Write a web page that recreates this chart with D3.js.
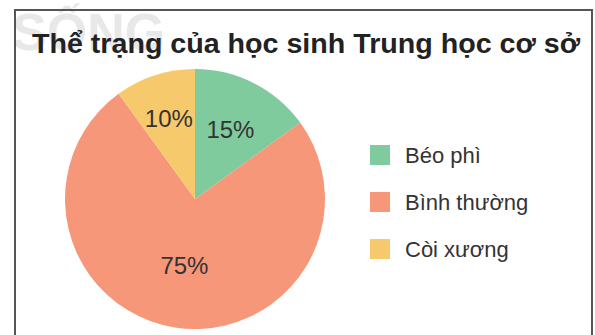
<!DOCTYPE html>
<html><head><meta charset="utf-8">
<script src="https://cdn.jsdelivr.net/npm/d3@7"></script>
<style>html,body{margin:0;padding:0;background:#fff;}svg{display:block;}</style>
</head><body>
<script>
const categories = ["Béo phì", "Bình thường", "Còi xương"];
const values = [15, 75, 10];
const labels = ["15%", "75%", "10%"];
const colors = ["#7fcb9d", "#f7977a", "#f6c96c"];
const title = "Thể trạng của học sinh Trung học cơ sở";

const W = 595, H = 335;
const svg = d3.select("body").append("svg").attr("width", W).attr("height", H);
svg.append("rect").attr("width", W).attr("height", H).attr("fill", "#fff");

// faint watermark
svg.append("text").attr("x", 12).attr("y", 50)
  .attr("font-family", "Liberation Sans, Arial, sans-serif").attr("font-weight", "bold")
  .attr("font-size", 52).attr("fill", "#e8e8e8").text("SỐNG");

// frame
svg.append("path").attr("d", `M15,335 V10 H592 V335`).attr("fill", "none")
  .attr("stroke", "#555").attr("stroke-width", 2);

svg.append("text").attr("x", 306).attr("y", 53).attr("text-anchor", "middle")
  .attr("font-family", "Liberation Sans, Arial, sans-serif").attr("font-weight", "bold")
  .attr("font-size", 28).attr("textLength", 548).attr("lengthAdjust", "spacingAndGlyphs")
  .attr("fill", "#222").text(title);

const cx = 195, cy = 199, r = 130;
const pie = d3.pie().sort(null).value(d => d)(values);
const arc = d3.arc().innerRadius(0).outerRadius(r);
const g = svg.append("g").attr("transform", `translate(${cx},${cy})`);
g.selectAll("path").data(pie).join("path").attr("d", arc).attr("fill", (d, i) => colors[i]);

// label radius factors per slice (Béo phì, Bình thường, Còi xương)
const labelR = [0.6, 0.52, 0.65];
g.selectAll("text").data(pie).join("text")
  .attr("transform", (d, i) => {
    const a = d3.arc().innerRadius(r * labelR[i]).outerRadius(r * labelR[i]);
    const c = a.centroid(d);
    return `translate(${c[0]},${c[1]})`;
  })
  .attr("text-anchor", "middle").attr("dy", "0.35em")
  .attr("font-family", "Liberation Sans, Arial, sans-serif").attr("font-size", 24)
  .attr("fill", "#333").text((d, i) => labels[i]);

const lg = svg.append("g").attr("transform", "translate(370,145)");
const items = lg.selectAll("g").data(categories).join("g")
  .attr("transform", (d, i) => `translate(0,${i * 47})`);
items.append("rect").attr("width", 20).attr("height", 20).attr("fill", (d, i) => colors[i]);
items.append("text").attr("x", 35).attr("y", 10).attr("dy", "0.35em")
  .attr("font-family", "Liberation Sans, Arial, sans-serif").attr("font-size", 22)
  .attr("fill", "#333").text(d => d);
</script>
</body></html>
